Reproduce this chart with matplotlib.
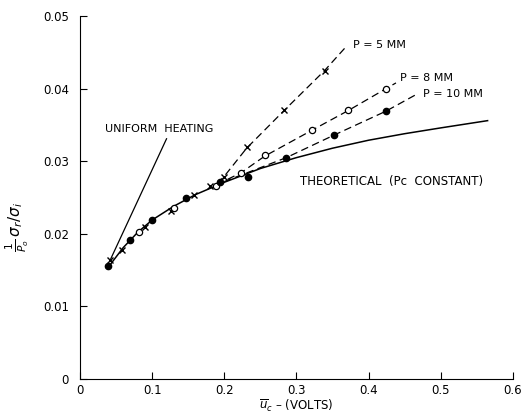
import numpy as np
import matplotlib
matplotlib.use('Agg')
import matplotlib.pyplot as plt

# theoretical curve (Pc constant)
theo_x = [0.04, 0.06, 0.08, 0.10, 0.13, 0.16, 0.20, 0.25, 0.30, 0.35, 0.40, 0.45, 0.50, 0.565]
theo_y = [0.0155, 0.0181, 0.0202, 0.0219, 0.0238, 0.0254, 0.0271, 0.0290, 0.0305, 0.0318, 0.0329, 0.0338, 0.0346, 0.0356]

# uniform heating line
unif_x = [0.042, 0.120]
unif_y = [0.0164, 0.0331]

# measured points
p5_x = [0.042, 0.058, 0.090, 0.126, 0.158, 0.180, 0.199, 0.231, 0.283, 0.339]
p5_y = [0.0164, 0.0177, 0.0209, 0.0232, 0.0253, 0.0266, 0.0278, 0.0320, 0.0370, 0.0425]
p8_x = [0.082, 0.131, 0.188, 0.223, 0.256, 0.322, 0.372, 0.424]
p8_y = [0.0202, 0.0236, 0.0266, 0.0284, 0.0309, 0.0343, 0.0370, 0.0400]
p10_x = [0.039, 0.070, 0.100, 0.147, 0.194, 0.233, 0.286, 0.352, 0.424]
p10_y = [0.0155, 0.0191, 0.0219, 0.0249, 0.0271, 0.0278, 0.0305, 0.0336, 0.0369]

# dashed guide lines drawn through the points
g5_x = [0.19, 0.199, 0.231, 0.283, 0.339, 0.368]
g5_y = [0.0270, 0.0278, 0.0318, 0.0370, 0.0425, 0.0457]
g8_x = [0.19, 0.223, 0.256, 0.322, 0.372, 0.424, 0.438]
g8_y = [0.0268, 0.0284, 0.0307, 0.0343, 0.0370, 0.0400, 0.0408]
g10_x = [0.20, 0.286, 0.352, 0.424, 0.466]
g10_y = [0.0272, 0.0305, 0.0336, 0.0369, 0.0392]

plt.rcParams['font.family'] = 'DejaVu Sans'

fig = plt.figure(figsize=(5.26, 4.15), dpi=100)
ax = fig.add_axes([0.152, 0.087, 0.823, 0.874])

ax.plot(theo_x, theo_y, color='black', lw=1.1)
ax.plot(unif_x, unif_y, color='black', lw=0.9)
for gx, gy in [(g5_x, g5_y), (g8_x, g8_y), (g10_x, g10_y)]:
    ax.plot(gx, gy, color='black', lw=0.9, dashes=(6, 3.5))

ax.plot(p5_x, p5_y, 'x', color='black', ms=4, mew=1.0)
ax.plot(p8_x, p8_y, 'o', mfc='white', mec='black', ms=4.5, mew=0.9)
ax.plot(p10_x, p10_y, 'o', color='black', ms=4.5)

ax.text(0.378, 0.0460, 'P = 5 MM', fontsize=8, va='center')
ax.text(0.444, 0.0415, 'P = 8 MM', fontsize=8, va='center')
ax.text(0.476, 0.0393, 'P = 10 MM', fontsize=8, va='center')
ax.text(0.035, 0.0345, 'UNIFORM  HEATING', fontsize=8, va='center')
ax.text(0.305, 0.0272, 'THEORETICAL  (Pc  CONSTANT)', fontsize=8.5, va='center')

ax.set_xlim(0, 0.6)
ax.set_ylim(0, 0.05)
ax.set_xticks([0, 0.1, 0.2, 0.3, 0.4, 0.5, 0.6])
ax.set_xticklabels(['0', '0.1', '0.2', '0.3', '0.4', '0.5', '0.6'])
ax.set_yticks([0, 0.01, 0.02, 0.03, 0.04, 0.05])
ax.set_yticklabels(['0', '0.01', '0.02', '0.03', '0.04', '0.05'])
ax.tick_params(direction='in', length=5, width=0.8, labelsize=8.5)
ax.tick_params(axis='x', pad=4)
ax.tick_params(axis='y', pad=8)
ax.spines['top'].set_visible(False)
ax.spines['right'].set_visible(False)

ax.set_xlabel(r'$\overline{u}_c$ – (VOLTS)', fontsize=8.5, labelpad=0)
ax.set_ylabel(r'$\frac{1}{P_o}\,\sigma_r/\sigma_i$', fontsize=11)
ax.yaxis.set_label_coords(-0.112, 0.42)

fig.savefig('out.png', dpi=100)
